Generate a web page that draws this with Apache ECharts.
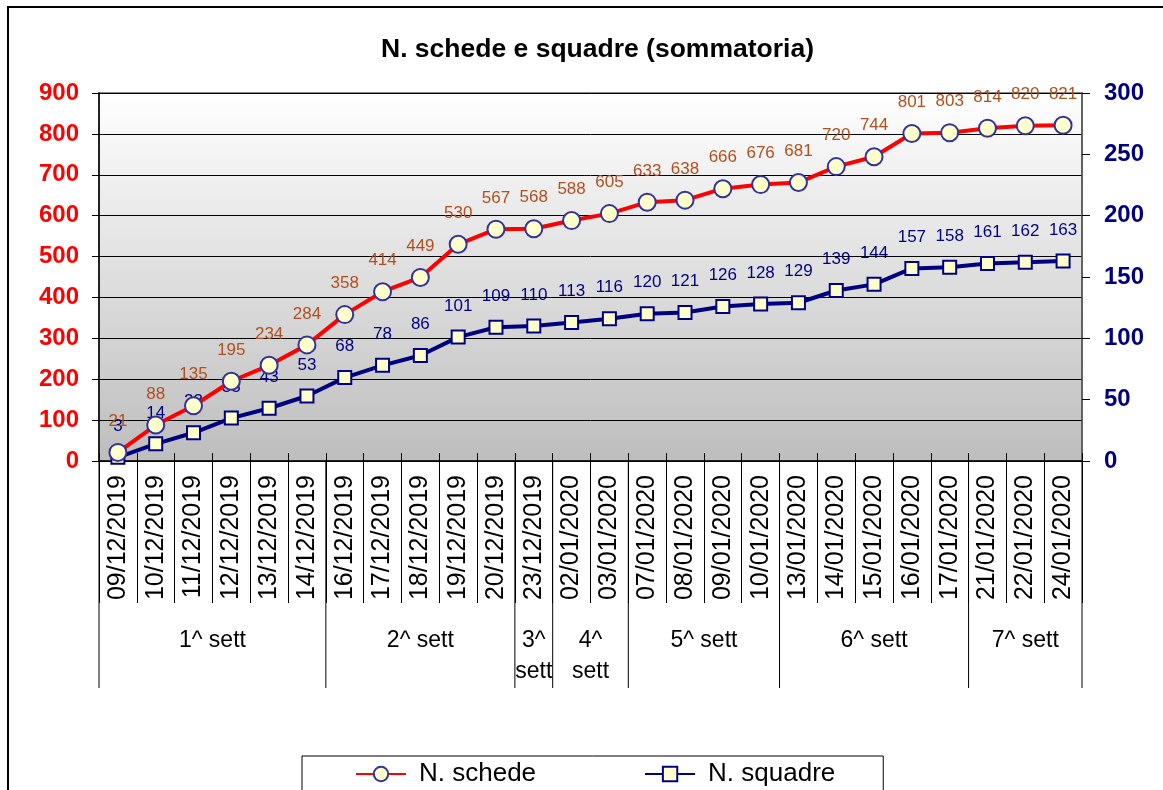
<!DOCTYPE html>
<html>
<head>
<meta charset="utf-8">
<script src="https://cdn.jsdelivr.net/npm/echarts@6/dist/echarts.min.js"></script>
<style>
  html, body { margin: 0; padding: 0; background: #fff; }
  #main { width: 1163px; height: 790px; }
</style>
</head>
<body>
<div id="main"></div>
<script>
const dates = [
  '09/12/2019', '10/12/2019', '11/12/2019', '12/12/2019', '13/12/2019', '14/12/2019',
  '16/12/2019', '17/12/2019', '18/12/2019', '19/12/2019', '20/12/2019',
  '23/12/2019',
  '02/01/2020', '03/01/2020',
  '07/01/2020', '08/01/2020', '09/01/2020', '10/01/2020',
  '13/01/2020', '14/01/2020', '15/01/2020', '16/01/2020', '17/01/2020',
  '21/01/2020', '22/01/2020', '24/01/2020'
];
const schede = [21, 88, 135, 195, 234, 284, 358, 414, 449, 530, 567, 568, 588, 605, 633, 638, 666, 676, 681, 720, 744, 801, 803, 814, 820, 821];
const squadre = [3, 14, 23, 35, 43, 53, 68, 78, 86, 101, 109, 110, 113, 116, 120, 121, 126, 128, 129, 139, 144, 157, 158, 161, 162, 163];
const weekLabels = ['1^ sett', '2^ sett', '3^ sett', '4^ sett', '5^ sett', '6^ sett', '7^ sett'];
const weekSizes = [6, 5, 1, 2, 4, 5, 3];

const FONT = 'Liberation Sans';

// start/end index of each week on the category axis
let pos = 0;
const weekData = weekSizes.map(n => {
  const item = [pos, pos + n - 1, 0];
  pos += n;
  return item;
});

const chartDom = document.getElementById('main');
const myChart = echarts.init(chartDom);

const option = {
  backgroundColor: '#ffffff',
  animation: false,
  textStyle: { fontFamily: FONT },
  title: {
    text: 'N. schede e squadre (sommatoria)',
    left: 376,
    top: 31,
    textStyle: { fontFamily: FONT, fontSize: 26.5, fontWeight: 'bold', color: '#000' }
  },
  graphic: [
    {
      type: 'rect',
      shape: { x: 8, y: 7, width: 1200, height: 900 },
      style: { fill: 'none', stroke: '#000', lineWidth: 2 },
      silent: true
    }
  ],
  legend: {
    data: ['N. schede', 'N. squadre'],
    left: 302,
    top: 756,
    orient: 'horizontal',
    padding: [5, 48, 40, 53],
    itemGap: 108,
    itemWidth: 50,
    itemHeight: 18,
    borderColor: '#000',
    borderWidth: 1,
    backgroundColor: '#fff',
    textStyle: { fontFamily: FONT, fontSize: 26, color: '#000', padding: [0, 0, 0, 8] }
  },
  grid: {
    left: 99, top: 93, width: 983, height: 368,
    show: true,
    borderColor: '#8a8a8a',
    borderWidth: 2,
    backgroundColor: {
      type: 'linear', x: 0, y: 0, x2: 0, y2: 1,
      colorStops: [
        { offset: 0, color: '#ffffff' },
        { offset: 1, color: '#bdbdbd' }
      ]
    }
  },
  xAxis: [
    {
      type: 'category',
      position: 'bottom',
      data: dates,
      boundaryGap: true,
      axisLine: { show: true, lineStyle: { color: '#000', width: 1.5 } },
      axisTick: { show: true, interval: 0, length: 142, lineStyle: { color: '#000', width: 1 } },
      axisLabel: {
        interval: 0, rotate: 90, margin: 14,
        fontFamily: FONT, fontSize: 25, color: '#000'
      },
      splitLine: { show: false }
    },
    {
      type: 'category',
      position: 'bottom',
      data: dates,
      boundaryGap: true,
      axisLine: { show: false },
      axisTick: { show: true, inside: true, interval: 0, length: 8, lineStyle: { color: '#000', width: 1 } },
      axisLabel: { show: false },
      splitLine: { show: false }
    }
  ],
  yAxis: [
    {
      type: 'value',
      position: 'left',
      min: 0, max: 900, interval: 100,
      axisLine: { show: true, lineStyle: { color: '#000', width: 1.5 } },
      axisTick: { show: true, length: 7, lineStyle: { color: '#000' } },
      axisLabel: { margin: 20, fontFamily: FONT, fontSize: 24, fontWeight: 'bold', color: '#ff0000' },
      splitLine: { show: true, lineStyle: { color: '#000', width: 1 } }
    },
    {
      type: 'value',
      position: 'right',
      min: 0, max: 300, interval: 50,
      axisLine: { show: true, lineStyle: { color: '#555', width: 1.5 } },
      axisTick: { show: true, length: 8, lineStyle: { color: '#000' } },
      axisLabel: { margin: 22, fontFamily: FONT, fontSize: 24, fontWeight: 'bold', color: '#000080' },
      splitLine: { show: false }
    }
  ],
  series: [
    {
      name: 'N. schede',
      type: 'line',
      xAxisIndex: 0,
      yAxisIndex: 0,
      data: schede,
      symbol: 'circle',
      symbolSize: 17,
      lineStyle: { color: '#ff0000', width: 4 },
      itemStyle: { color: '#ffffcc', borderColor: '#333399', borderWidth: 2 },
      label: {
        show: true, position: 'top', distance: 13,
        fontFamily: FONT, fontSize: 17, color: '#b0501e'
      },
      z: 3
    },
    {
      name: 'N. squadre',
      type: 'line',
      xAxisIndex: 0,
      yAxisIndex: 1,
      data: squadre,
      symbol: 'rect',
      symbolSize: 13,
      lineStyle: { color: '#000080', width: 4 },
      itemStyle: { color: '#ffffcc', borderColor: '#000080', borderWidth: 2 },
      label: {
        show: true, position: 'top', distance: 15,
        fontFamily: FONT, fontSize: 17, color: '#000080'
      },
      z: 2
    },
    {
      // week grouping row under the date labels
      type: 'custom',
      xAxisIndex: 0,
      yAxisIndex: 0,
      silent: true,
      clip: false,
      encode: { x: [0, 1], y: 2 },
      data: weekData,
      renderItem: function (params, api) {
        const start = api.value(0);
        const end = api.value(1);
        const band = api.size([1, 0])[0];
        const p0 = api.coord([start, 0]);
        const p1 = api.coord([end, 0]);
        const left = p0[0] - band / 2;
        const right = p1[0] + band / 2;
        const y0 = p0[1];
        const span = right - left;
        const name = weekLabels[params.dataIndex];
        const text = span < 90 ? name.replace(' ', '\n') : name;
        const children = [
          {
            type: 'line',
            shape: { x1: left, y1: y0, x2: left, y2: y0 + 227 },
            style: { stroke: '#000', lineWidth: 1 }
          },
          {
            type: 'text',
            style: {
              x: (left + right) / 2,
              y: y0 + 164,
              text: text,
              align: 'center',
              verticalAlign: 'top',
              fontFamily: FONT,
              fontSize: 23,
              lineHeight: 31,
              fill: '#000'
            }
          }
        ];
        if (params.dataIndex === weekData.length - 1) {
          children.push({
            type: 'line',
            shape: { x1: right, y1: y0, x2: right, y2: y0 + 227 },
            style: { stroke: '#000', lineWidth: 1 }
          });
        }
        return { type: 'group', children: children };
      },
      z: 1
    }
  ]
};

myChart.setOption(option);
</script>
</body>
</html>
